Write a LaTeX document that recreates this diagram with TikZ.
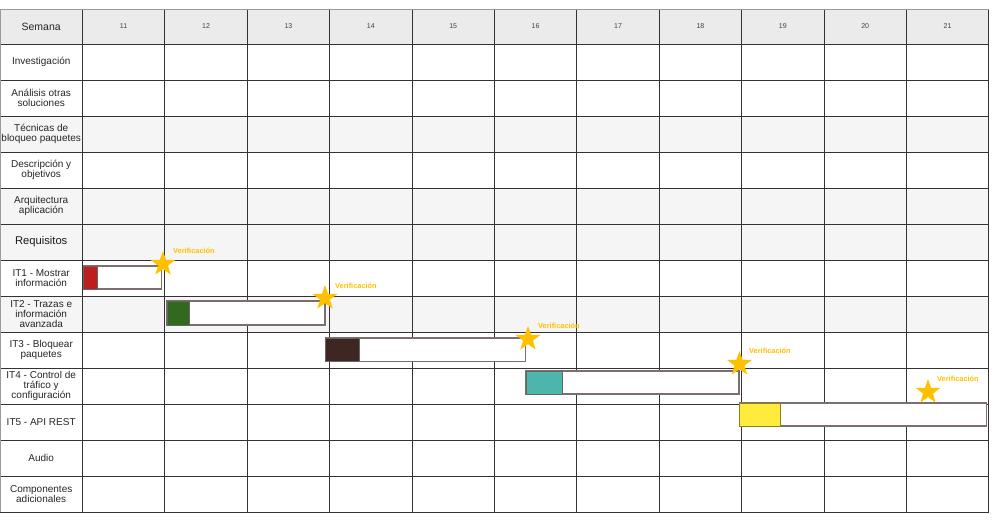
\documentclass[tikz,border=0pt]{standalone}
\usepackage{fontspec}
\setmainfont{Liberation Sans}
\usetikzlibrary{shapes.geometric}
\definecolor{hdr}{HTML}{EBEBEB}
\definecolor{alt}{HTML}{F5F5F5}
\definecolor{gridc}{HTML}{333333}
\definecolor{outc}{HTML}{9A9A9A}
\definecolor{barc}{HTML}{7D6E6E}
\definecolor{gold}{HTML}{FFC000}
\definecolor{cred}{HTML}{BE1E1E}
\definecolor{cgreen}{HTML}{33691E}
\definecolor{cbrown}{HTML}{3E2723}
\definecolor{cteal}{HTML}{4DB6AC}
\definecolor{cyellow}{HTML}{FFEB3B}
\begin{document}
\begin{tikzpicture}[x=1pt,y=-1pt,
  lbl/.style={font=\fontsize{10}{10.4}\selectfont, align=center, text=black!85, inner sep=0},
  hdrlbl/.style={font=\fontsize{10.5}{11}\selectfont, align=center, text=black!85, inner sep=0},
  biglbl/.style={font=\fontsize{11.2}{12}\selectfont, align=center, text=black!90, inner sep=0},
  wk/.style={font=\fontsize{7}{8}\selectfont, text=black!75, inner sep=0},
  barbox/.style={draw=barc, line width=1.3pt, fill=white, inner sep=0, anchor=north west, outer sep=0},
  barfill/.style={draw=black!60, line width=0.6pt, inner sep=0, anchor=north west, outer sep=0},
  star5/.style={star, star points=5, star point ratio=2.5, fill=gold, draw=none, minimum size=26pt, inner sep=0},
  verif/.style={font=\bfseries\fontsize{7.4}{8}\selectfont, text=gold, anchor=west, inner sep=0}]
\useasboundingbox (0,0) rectangle (999,522);
% backgrounds
\fill[hdr] (0,9) rectangle (988.8,44);
\foreach \r in {3,5,6,8} \fill[alt] (0,{44+36*(\r-1)}) rectangle (988.8,{44+36*\r});
% grid
\foreach \k in {1,...,11} \draw[gridc, line width=1pt] ({82.4*\k},9) -- ({82.4*\k},512);
\foreach \r in {0,...,13} \draw[gridc, line width=1pt] (0,{44+36*\r}) -- (988.8,{44+36*\r});
\draw[gridc, line width=1pt] (988.8,9) -- (988.8,512);
\draw[outc, line width=1pt] (0.5,512) -- (0.5,9) -- (988.8,9);
% header
\node[hdrlbl] (sem) at (41.2,26.5) {Semana};
\foreach \k in {1,...,11} {
  \pgfmathtruncatemacro{\w}{10+\k}
  \node[wk] (w\w) at ({82.4*\k+41.2},26.5) {\w};
}
% row labels
\node[lbl] (r1) at (41.2,62) {Investigación};
\node[lbl] (r2) at (41.2,98) {Análisis otras\\soluciones};
\node[lbl] (r3) at (41.2,134) {Técnicas de\\bloqueo paquetes};
\node[lbl] (r4) at (41.2,170) {Descripción y\\objetivos};
\node[lbl] (r5) at (41.2,206) {Arquitectura\\aplicación};
\node[biglbl] (r6) at (41.2,242) {Requisitos};
\node[lbl] (r7) at (41.2,278) {IT1 - Mostrar\\información};
\node[lbl] (r8) at (41.2,314) {IT2 - Trazas e\\información\\avanzada};
\node[lbl] (r9) at (41.2,350) {IT3 - Bloquear\\paquetes};
\node[lbl] (r10) at (41.2,386) {IT4 - Control de\\tráfico y\\configuración};
\node[lbl] (r11) at (41.2,422) {IT5 - API REST};
\node[lbl] (r12) at (41.2,458) {Audio};
\node[lbl] (r13) at (41.2,494) {Componentes\\adicionales};
% bars
\node[barbox, minimum width=78pt, minimum height=23pt] (b1) at (83.5,266) {};
\node[barfill, fill=cred, minimum width=13.5pt, minimum height=23pt] (c1) at (83.5,266) {};
\node[barbox, minimum width=158pt, minimum height=24pt] (b2) at (167,301) {};
\node[barfill, fill=cgreen, minimum width=22pt, minimum height=24pt] (c2) at (167,301) {};
\node[barbox, minimum width=200pt, minimum height=23.5pt] (b3) at (325.5,338) {};
\node[barfill, fill=cbrown, minimum width=33.5pt, minimum height=23.5pt] (c3) at (325.5,338) {};
\node[barbox, minimum width=213pt, minimum height=23pt] (b4) at (526,371) {};
\node[barfill, fill=cteal, minimum width=36pt, minimum height=23pt] (c4) at (526,371) {};
\node[barbox, minimum width=247pt, minimum height=23pt] (b5) at (739.5,403) {};
\node[barfill, fill=cyellow, draw=black!45!cyellow, minimum width=40.5pt, minimum height=23pt] (c5) at (739.5,403) {};
% stars
\node[star5] (s1) at (163,264) {};
\node[star5] (s2) at (325,298) {};
\node[star5] (s3) at (528,339) {};
\node[star5] (s4) at (739.5,364) {};
\node[star5] (s5) at (928,392) {};
% verification labels
\node[verif] (v1) at (173,251) {Verificación};
\node[verif] (v2) at (335,286) {Verificación};
\node[verif] (v3) at (538,326) {Verificación};
\node[verif] (v4) at (749,351) {Verificación};
\node[verif] (v5) at (937,379) {Verificación};
\end{tikzpicture}
\end{document}
